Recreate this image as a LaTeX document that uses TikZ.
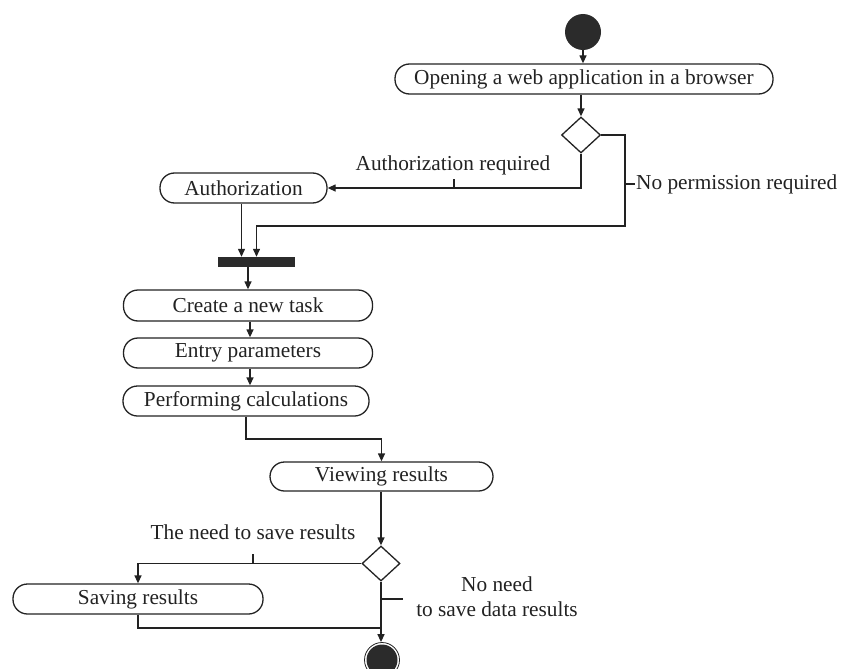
\documentclass[tikz,border=0pt]{standalone}
\usepackage{fontspec}
\setmainfont{Liberation Serif}
\usetikzlibrary{shapes.geometric,arrows.meta}
\definecolor{ink}{HTML}{222222}
\definecolor{blob}{HTML}{2B2B2B}
\tikzset{
  act/.style={draw=ink, line width=1.3pt, rectangle, rounded corners=14.5pt, inner sep=0pt, text=ink},
  dec/.style={draw=ink, line width=1.3pt, shape=diamond, inner sep=0pt},
  lbl/.style={text=ink, inner sep=0pt},
  conn/.style={draw=ink, line width=1.3pt},
  arr/.style={conn, -{Triangle[length=8pt,width=7pt]}},
}
\begin{document}
\begin{tikzpicture}[x=1pt,y=-1pt, font=\fontsize{21.3}{25}\selectfont]
\useasboundingbox (0,0) rectangle (843,669);
\clip (0,0) rectangle (843,669);
% nodes
\node[circle, fill=blob, minimum size=36pt, inner sep=0pt] (start) at (583,32) {};
\node[act, minimum width=378pt, minimum height=30pt] (open) at (584,79) {Opening a web application in a browser};
\node[dec, minimum width=39pt, minimum height=36pt] (d1) at (581,135) {};
\node[act, minimum width=167pt, minimum height=30pt] (auth) at (243.5,188) {Authorization};
\node[rectangle, fill=blob, minimum width=77pt, minimum height=10pt, inner sep=0pt] (bar) at (256.5,262) {};
\node[act, minimum width=249pt, minimum height=31pt] (create) at (248,305.5) {Create a new task};
\node[act, minimum width=249pt, minimum height=30pt] (entry) at (248,353) {Entry parameters};
\node[act, minimum width=246pt, minimum height=30pt] (perf) at (246,401) {Performing calculations};
\node[act, minimum width=223pt, minimum height=29pt] (view) at (381.5,476.5) {Viewing results};
\node[dec, minimum width=38pt, minimum height=35pt] (d2) at (381,563.5) {};
\node[act, minimum width=250pt, minimum height=30pt] (save) at (138,599) {Saving results};
\node[circle, draw=ink, line width=0.8pt, minimum size=35pt, inner sep=0pt] (end) at (382,660) {};
\fill[blob] (end.center) circle (15.5pt);
% labels
\node[lbl] (lauth) at (453,165) {Authorization required};
\node[lbl, anchor=west] (lnp) at (636,184) {No permission required};
\node[lbl] (lneed) at (253,532) {The need to save results};
\node[lbl, align=center] (lno) at (497,597) {No need\\to save data results};
% helper coordinates
\coordinate (np) at (625,226);
\coordinate (m1) at (300,439);
\coordinate (m2) at (382,628);
\coordinate (t1) at (454,188);
\coordinate (t2) at (625,184);
\coordinate (t3) at (253,563);
\coordinate (t4) at (382,599);
% connectors
\draw[arr] (start.south |- start.south) -- (start.south |- open.north);
\draw[arr] (open.south -| d1.north) -- (d1.north);
\draw[arr] (d1.south) |- (auth.east);
\draw[conn] (t1) -- ++(0,-9);
\draw[arr] (d1.east) -| (np) -| (bar.north);
\draw[conn] (t2) -- ++(10,0);
\draw[arr] ([xshift=-2pt]auth.south) -- ([xshift=-2pt]auth.south |- bar.north);
\draw[arr] (bar.south -| create.north) -- (create.north);
\draw[arr] ([xshift=2pt]create.south) -- ([xshift=2pt]create.south |- entry.north);
\draw[arr] ([xshift=2pt]entry.south) -- ([xshift=2pt]entry.south |- perf.north);
\draw[arr] (perf.south) |- (m1) -| (view.north);
\draw[arr] (view.south -| d2.north) -- (d2.north);
\draw[arr] (d2.west) -| (save.north);
\draw[conn] (t3) -- ++(0,-9);
\draw[arr] (d2.south) -- (d2.south |- end.north);
\draw[conn] (save.south) |- (m2);
\draw[conn] (t4) -- ++(21,0);
\end{tikzpicture}
\end{document}
